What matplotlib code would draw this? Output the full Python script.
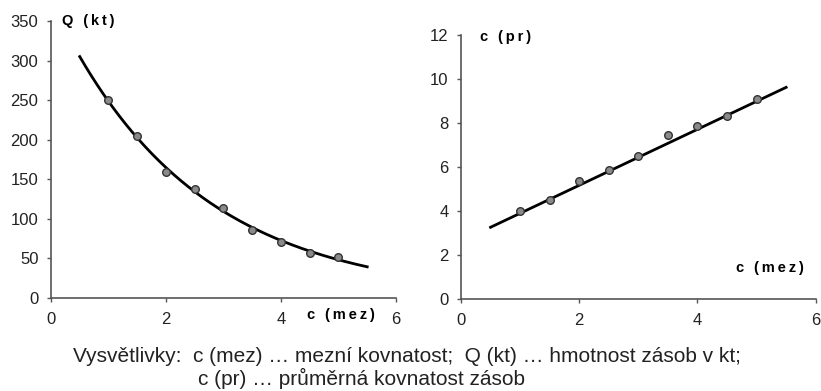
import matplotlib.pyplot as plt
import numpy as np

plt.rcParams['font.family'] = ['Liberation Sans', 'DejaVu Sans']

# data
c_mez = [1.0, 1.5, 2.0, 2.5, 3.0, 3.5, 4.0, 4.5, 5.0]
q_kt = [250, 205, 159, 137, 113, 86, 71, 56, 51]
c_pr = [4.0, 4.5, 5.35, 5.85, 6.5, 7.45, 7.85, 8.3, 9.1]

# trend line ends
trend_x = [0.5, 5.5]
trend_pr = [3.26, 9.62]

fig = plt.figure(figsize=(8.21, 3.91), dpi=100)

ax1 = fig.add_axes([0.0621, 0.2386, 0.4202, 0.7077])
ax2 = fig.add_axes([0.5615, 0.2353, 0.4320, 0.6752])

# exponential trend for Q, fitted from the points
xs = np.linspace(trend_x[0], trend_x[1], 200)
b, a = np.polyfit(c_mez, np.log(q_kt), 1)
ax1.plot(xs, np.exp(a) * np.exp(b * xs), color='black', lw=2, zorder=2)
ax2.plot(trend_x, trend_pr, color='black', lw=2, zorder=2)

for ax, y in [(ax1, q_kt), (ax2, c_pr)]:
    ax.scatter(c_mez, y, s=30, facecolor='#8a8a8a', edgecolor='#333333',
               linewidth=1, zorder=3)
    for s in ['top', 'right']:
        ax.spines[s].set_visible(False)
    for s in ['left', 'bottom']:
        ax.spines[s].set_color('#555555')
        ax.spines[s].set_linewidth(1.2)
    ax.tick_params(direction='out', length=3, width=1, color='#555555',
                   labelsize=12, labelcolor='#222222')
    ax.tick_params(axis='x', pad=7)
    ax.tick_params(axis='y', pad=6)
    ax.set_xlim(0, 6)
    ax.set_xticks([0, 2, 4, 6])

ax1.set_ylim(0, 350)
ax1.set_yticks(range(0, 351, 50))
ax2.set_ylim(0, 12)
ax2.set_yticks(range(0, 13, 2))

ts = '\u2009'
lab_q = ts.join('Q (kt)')
lab_mez = ts.join('c (mez)')
lab_pr = ts.join('c (pr)')

fig.text(62 / 821, 1 - 21 / 391, lab_q, fontsize=10.5, fontweight='bold',
         va='center', ha='left')
fig.text(307 / 821, 1 - 315 / 391, lab_mez, fontsize=10.5, fontweight='bold',
         va='center', ha='left')
fig.text(480 / 821, 1 - 37 / 391, lab_pr, fontsize=10.5, fontweight='bold',
         va='center', ha='left')
fig.text(736 / 821, 1 - 268 / 391, lab_mez, fontsize=10.5, fontweight='bold',
         va='center', ha='left')

fig.text(73 / 821, 1 - 356 / 391,
         'Vysvětlivky:  c (mez) … mezní kovnatost;  Q (kt) … hmotnost zásob v kt;',
         fontsize=15, va='center', ha='left', color='#222222')
fig.text(198 / 821, 1 - 378 / 391, 'c (pr) … průměrná kovnatost zásob',
         fontsize=15, va='center', ha='left', color='#222222')

fig.savefig('out.png', dpi=100)
